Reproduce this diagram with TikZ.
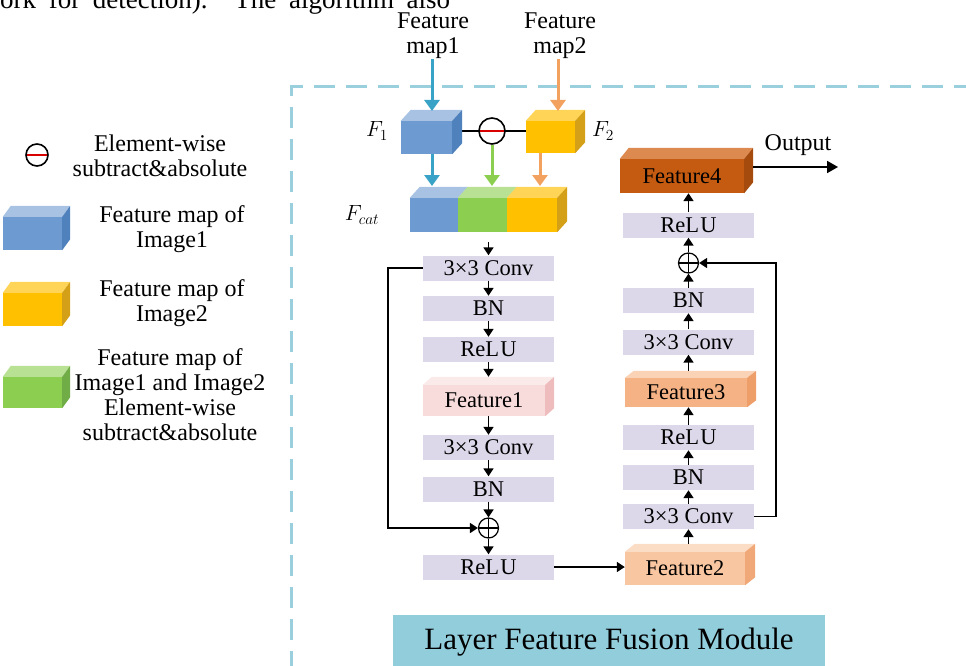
\RequirePackage{fix-cm}
\documentclass[tikz,border=0pt]{standalone}
\usepackage{fontspec}
\setmainfont{Liberation Serif}
\usetikzlibrary{arrows.meta}

\definecolor{lav}{HTML}{DCD8EA}
\definecolor{blueF}{HTML}{6D9BD1}\definecolor{blueT}{HTML}{A8C2E4}\definecolor{blueS}{HTML}{4F81BD}
\definecolor{yelF}{HTML}{FFC000}\definecolor{yelT}{HTML}{FFD457}\definecolor{yelS}{HTML}{D4A017}
\definecolor{grnF}{HTML}{8CCF50}\definecolor{grnT}{HTML}{B8E194}\definecolor{grnS}{HTML}{70AD47}
\definecolor{pinkF}{HTML}{F8DCDC}\definecolor{pinkT}{HTML}{FBEAEA}\definecolor{pinkS}{HTML}{EEBCBC}
\definecolor{peaF}{HTML}{F8C6A0}\definecolor{peaT}{HTML}{FBDCC4}\definecolor{peaS}{HTML}{F0A878}
\definecolor{pebF}{HTML}{F5B285}\definecolor{pebT}{HTML}{FAD2B6}\definecolor{pebS}{HTML}{EE9E68}
\definecolor{rstF}{HTML}{C55A11}\definecolor{rstT}{HTML}{DD8A50}\definecolor{rstS}{HTML}{A64B0E}
\definecolor{arB}{HTML}{38A3C7}\definecolor{arO}{HTML}{F2A15E}\definecolor{arG}{HTML}{8CCF50}
\definecolor{bord}{HTML}{9ACFDD}\definecolor{modbox}{HTML}{92CDDC}

% top and side faces of a block: name, depth x, depth y, top colour, side colour
\newcommand\blocktop[4]{\fill[#4] (#1.north west) -- ++(#2,-#3) -- ([shift={(#2,-#3)}]#1.north east) -- (#1.north east) -- cycle;}
\newcommand\blockside[4]{\fill[#4] (#1.north east) -- ++(#2,-#3) -- ([shift={(#2,-#3)}]#1.south east) -- (#1.south east) -- cycle;}
\newcommand\blockfaces[5]{\blocktop{#1}{#2}{#3}{#4}\blockside{#1}{#2}{#3}{#5}}

\begin{document}
\begin{tikzpicture}[x=1pt,y=-1pt,
  txt/.style={font=\fontsize{24}{25}\selectfont, align=center, inner sep=0pt},
  lbl/.style={font=\fontsize{22}{24}\selectfont, inner sep=0pt},
  layer/.style={fill=lav, minimum width=131pt, minimum height=25pt, inner sep=0pt, font=\fontsize{22.5}{24}\selectfont},
  block/.style={inner sep=0pt, font=\fontsize{22.5}{24}\selectfont},
  arr/.style={line width=1.6pt, -{Triangle[length=8pt,width=10pt]}},
  conn/.style={line width=1.6pt},
  oarr/.style={line width=1.8pt, -{Triangle[length=11pt,width=12pt]}},
  carr/.style={line width=3pt, -{Triangle[length=11pt,width=15pt]}},
  oplusnode/.style={circle, draw, line width=1.2pt, minimum size=20pt, inner sep=0pt, fill=white,
    path picture={\draw[line width=1.2pt] (path picture bounding box.north) -- (path picture bounding box.south)
      (path picture bounding box.west) -- (path picture bounding box.east);}},
  ominusnode/.style={circle, draw, line width=1.6pt, minimum size=#1, inner sep=0pt,
    path picture={\draw[red!85!black, line width=1.6pt] (path picture bounding box.west) -- (path picture bounding box.east);}},
  bordline/.style={draw=bord, line width=3pt, dash pattern=on 21pt off 11pt}]
\useasboundingbox (0,0) rectangle (966,666);

% running text above the figure
\node[anchor=base west, inner sep=0pt, font=\fontsize{27}{30}\selectfont] (frag) at (0,8.5)
  {\makebox[450pt][s]{ork for detection). The algorithm also}};

% module frame
\draw[bordline] (975,87) -- (291,87) -- (291,675);
\node[fill=modbox, minimum width=432pt, minimum height=55pt, inner sep=0pt,
  font=\fontsize{31}{34}\selectfont] (mod) at (609,642.5) {Layer Feature Fusion Module};

% legend
\node[ominusnode=22pt] (lgom) at (37,155) {};
\node[txt] (lgt1) at (160,156) {Element-wise\\subtract\&absolute};
\node[block, fill=blueF, minimum width=59pt, minimum height=33pt] (lgB) at (32.5,233.5) {};
\blockfaces{lgB}{8}{11}{blueT}{blueS}
\node[txt] (lgt2) at (172,229) {Feature map of\\Image1};
\node[block, fill=yelF, minimum width=59pt, minimum height=33pt] (lgO) at (32.5,309.5) {};
\blockfaces{lgO}{8}{11}{yelT}{yelS}
\node[txt] (lgt3) at (172,303) {Feature map of\\Image2};
\node[block, fill=grnF, minimum width=59pt, minimum height=31pt] (lgG) at (32.5,392.5) {};
\blockfaces{lgG}{8}{11}{grnT}{grnS}
\node[txt] (lgt4) at (170,395) {Feature map of\\Image1 and Image2\\Element-wise\\subtract\&absolute};

% inputs
\node[txt] (fm1) at (433,36) {Feature\\map1};
\node[txt] (fm2) at (560,36) {Feature\\map2};

% F1, F2 and their difference
\draw[conn] (462,131) -- (526,131);
\node[block, fill=blueF, minimum width=51pt, minimum height=33pt] (F1) at (426.5,137.5) {};
\blockfaces{F1}{10}{11}{blueT}{blueS}
\node[block, fill=yelF, minimum width=49pt, minimum height=32pt] (F2) at (550.5,137) {};
\blockfaces{F2}{10}{11}{yelT}{yelS}
\node[ominusnode=26pt, fill=white] (om) at (492,131) {};
\node[lbl] (lF1) at (377,131) {$F_1$};
\node[lbl] (lF2) at (603,131) {$F_2$};

\coordinate (inF1) at (432,111);
\coordinate (inF2) at (558,111);
\draw[carr, arB] (fm1.south -| inF1) -- (inF1);
\draw[carr, arO] (fm2.south -| inF2) -- (inF2);

% concatenated map
\node[block, fill=blueF, minimum width=48pt, minimum height=34pt] (fcB) at (434,215) {};
\node[block, fill=grnF, minimum width=49pt, minimum height=34pt] (fcG) at (482.5,215) {};
\node[block, fill=yelF, minimum width=50pt, minimum height=34pt] (fcO) at (532,215) {};
\blocktop{fcB}{10}{11}{blueT}
\blocktop{fcG}{10}{11}{grnT}
\blockfaces{fcO}{10}{11}{yelT}{yelS}
\node[lbl] (lFc) at (362,215) {$F_{cat}$};

\coordinate (inB) at (432,186);
\coordinate (inO) at (540,186);
\draw[carr, arB] (F1.south -| inB) -- (inB);
\draw[carr, arG] (om.south) -- (om.south |- inB);
\draw[carr, arO] (F2.south -| inO) -- (inO);

% first residual branch
\node[layer] (conv1) at (488.5,268) {3×3 Conv};
\node[layer] (bn1) at (488.5,308.5) {BN};
\node[layer] (relu1) at (488.5,349.5) {ReL\kern1.5pt U};
\node[block, fill=pinkF, minimum width=122pt, minimum height=31pt] (feat1) at (484,400.5) {Feature1};
\blockfaces{feat1}{9}{8}{pinkT}{pinkS}
\node[layer] (conv2) at (488.5,447.5) {3×3 Conv};
\node[layer] (bn2) at (488.5,489) {BN};
\node[oplusnode] (op1) at (488.5,528) {};
\node[layer] (relu3) at (488.5,567) {ReL\kern1.5pt U};

\draw[arr] ([yshift=-10pt]fcB.south -| conv1.north) -- (conv1.north);
\draw[arr] (conv1.south) -- (bn1.north);
\draw[arr] (bn1.south) -- (relu1.north);
\draw[arr] (relu1.south) -- ([yshift=8pt]feat1.north -| relu1.south);
\draw[arr] (feat1.south -| conv2.north) -- (conv2.north);
\draw[arr] (conv2.south) -- (bn2.north);
\draw[arr] (bn2.south) -- (op1.north);
\draw[arr] (op1.south) -- (relu3.north);
\draw[arr] (conv1.west) -- ++(-35,0) |- (op1.west);

% second residual branch
\node[block, fill=peaF, minimum width=120pt, minimum height=33pt] (feat2) at (685,568.5) {Feature2};
\blockfaces{feat2}{10}{8}{peaT}{peaS}
\node[layer] (conv3) at (688.5,516.5) {3×3 Conv};
\node[layer] (bn3) at (688.5,477.5) {BN};
\node[layer] (relu2) at (688.5,437.5) {ReL\kern1.5pt U};
\node[block, fill=pebF, minimum width=122pt, minimum height=29pt] (feat3) at (686,392.5) {Feature3};
\blockfaces{feat3}{9}{7}{pebT}{pebS}
\node[layer] (conv4) at (688.5,342) {3×3 Conv};
\node[layer] (bn4) at (688.5,300.5) {BN};
\node[oplusnode] (op2) at (688.5,263) {};
\node[layer] (relu4) at (688.5,225) {ReL\kern1.5pt U};
\node[block, fill=rstF, minimum width=124pt, minimum height=34pt] (feat4) at (682,176) {Feature4};
\blockfaces{feat4}{9}{11}{rstT}{rstS}

\draw[arr] (relu3.east) -- (relu3.east -| feat2.west);
\draw[arr] ([yshift=8pt]feat2.north -| conv3.south) -- (conv3.south);
\draw[arr] (conv3.north) -- (bn3.south);
\draw[arr] (bn3.north) -- (relu2.south);
\draw[arr] (relu2.north) -- (relu2.north |- feat3.south);
\draw[arr] ([yshift=7pt]feat3.north -| conv4.south) -- (conv4.south);
\draw[arr] (conv4.north) -- (bn4.south);
\draw[arr] (bn4.north) -- (op2.south);
\draw[arr] (op2.north) -- (relu4.south);
\draw[arr] (relu4.north) -- (relu4.north |- feat4.south);
\draw[arr] (conv3.east) -- ++(22,0) |- (op2.east);

% output
\coordinate (outEnd) at (838,167);
\draw[oarr] ([xshift=9pt]feat4.east |- outEnd) -- (outEnd);
\node[txt] (outl) at (798,145) {Output};
\end{tikzpicture}
\end{document}
